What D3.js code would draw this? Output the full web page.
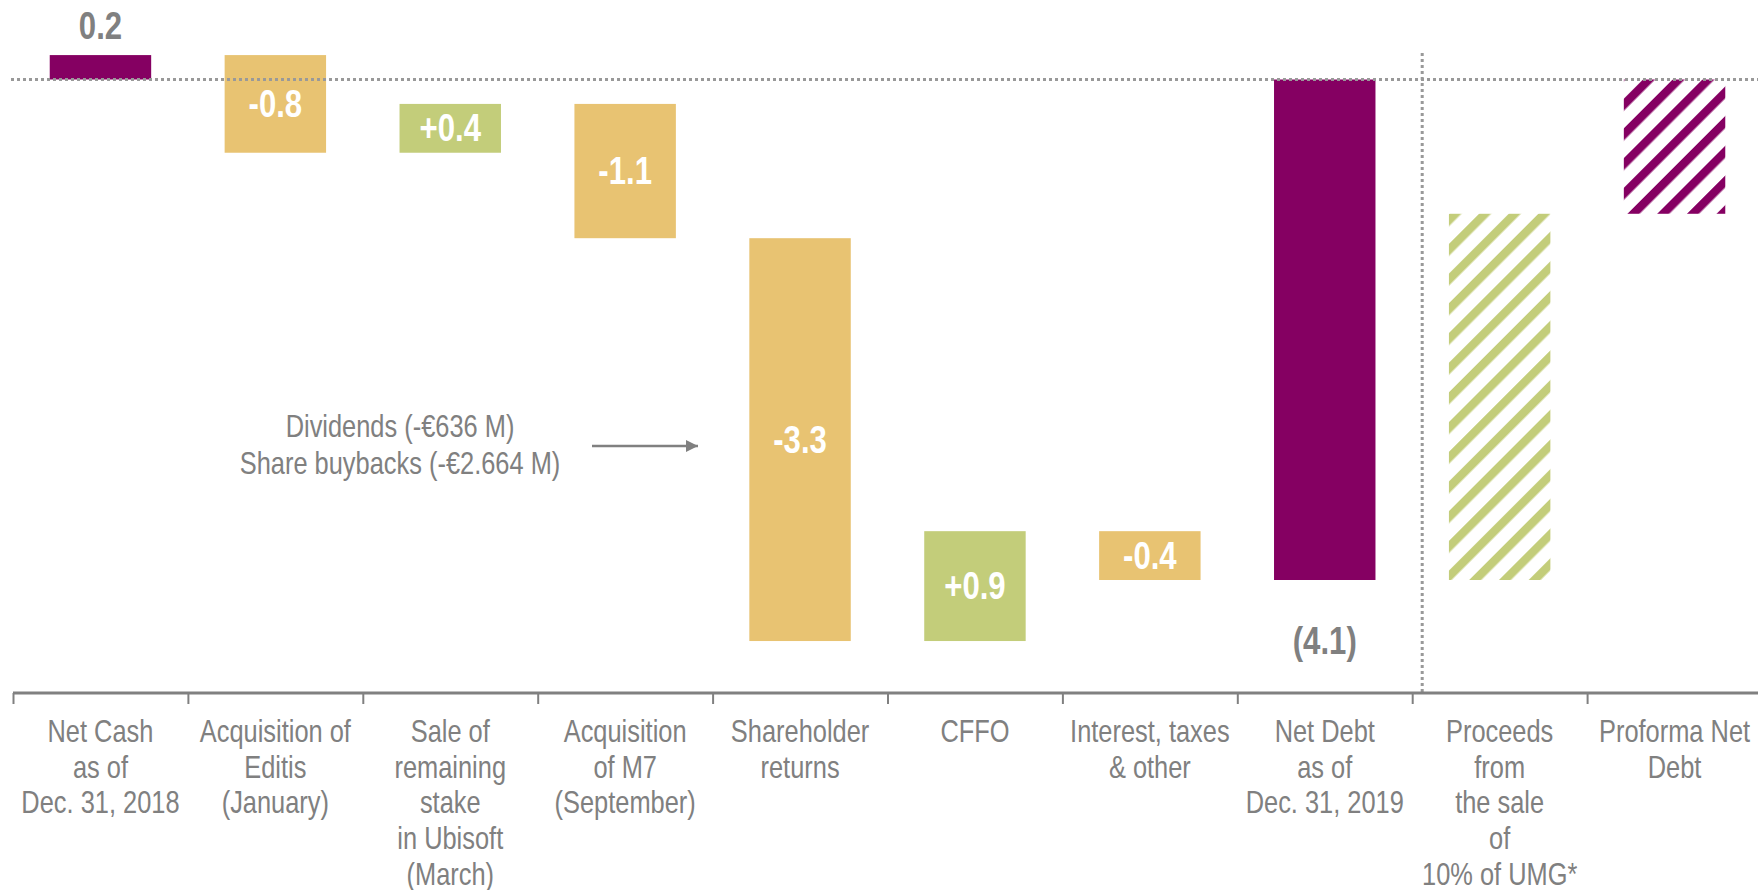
<!DOCTYPE html>
<html>
<head>
<meta charset="utf-8">
<script src="https://cdn.jsdelivr.net/npm/d3@7"></script>
<style>
  body { margin: 0; background: #fff; }
  svg text { font-family: "Liberation Sans", Arial, sans-serif; }
</style>
</head>
<body>
<svg id="chart" width="1758" height="890"></svg>
<script>
// categories (one array of lines per tick)
const categories = [
    ["Net Cash", "as of", "Dec. 31, 2018"],
    ["Acquisition of", "Editis", "(January)"],
    ["Sale of", "remaining", "stake", "in Ubisoft", "(March)"],
    ["Acquisition", "of M7", "(September)"],
    ["Shareholder", "returns"],
    ["CFFO"],
    ["Interest, taxes", "& other"],
    ["Net Debt", "as of", "Dec. 31, 2019"],
    ["Proceeds", "from", "the sale", "of", "10% of UMG*"],
    ["Proforma Net", "Debt"]
];
const values = [0.2, -0.8, 0.4, -1.1, -3.3, 0.9, -0.4, -4.1, 3.0, -1.1];
const kinds = ["total", "delta", "delta", "delta", "delta", "delta", "delta", "total", "proceeds", "proforma"];
const valueLabels = ["0.2", "-0.8", "+0.4", "-1.1", "-3.3", "+0.9", "-0.4", "(4.1)", "", ""];
const noteLines = ["Dividends (-€636 M)", "Share buybacks (-€2.664 M)"];

const purple = "#850062", gold = "#E8C372", green = "#C3CD7A", grey = "#808080";
const squeeze = 0.82; // no narrow font installed, so condense horizontally

const svg = d3.select("#chart");

// waterfall steps
let running = 0;
const bars = values.map((v, i) => {
    let start, end;
    if (kinds[i] === "total" || kinds[i] === "proforma") {
        start = 0; end = v;
    } else {
        start = running; end = running + v;
    }
    running = end;
    return { i: i, v: v, kind: kinds[i], start: start, end: end, label: valueLabels[i] };
});

const x = d3.scaleBand()
    .domain(d3.range(categories.length))
    .range([13, 1762])
    .paddingInner(0.42)
    .paddingOuter(0.21);

const xEdge = d3.scaleLinear().domain([0, categories.length]).range([13, 1762]);

const y = d3.scaleLinear().domain([0, -4.1]).range([79.5, 580]);

// hatch patterns
const defs = svg.append("defs");
function hatch(id, color) {
    const p = defs.append("pattern")
        .attr("id", id)
        .attr("patternUnits", "userSpaceOnUse")
        .attr("width", 21)
        .attr("height", 21)
        .attr("patternTransform", "rotate(45)");
    p.append("rect")
        .attr("x", 0).attr("y", 0)
        .attr("width", 8.5).attr("height", 21)
        .attr("fill", color);
}
hatch("hatchGreen", green);
hatch("hatchPurple", purple);

function fillFor(d) {
    if (d.kind === "total") return purple;
    if (d.kind === "proceeds") return "url(#hatchGreen)";
    if (d.kind === "proforma") return "url(#hatchPurple)";
    return d.v >= 0 ? green : gold;
}

svg.append("g").selectAll("rect")
    .data(bars)
    .join("rect")
    .attr("x", d => x(d.i))
    .attr("width", x.bandwidth())
    .attr("y", d => y(Math.max(d.start, d.end)))
    .attr("height", d => Math.abs(y(d.start) - y(d.end)))
    .attr("fill", fillFor);

// zero reference line (dotted)
svg.append("line")
    .attr("x1", 11).attr("x2", 1758)
    .attr("y1", y(0)).attr("y2", y(0))
    .attr("stroke", "#999")
    .attr("stroke-width", 3)
    .attr("stroke-dasharray", "3,3");

// vertical separator before proforma part
svg.append("line")
    .attr("x1", xEdge(8) + 10).attr("x2", xEdge(8) + 10)
    .attr("y1", 53).attr("y2", 692)
    .attr("stroke", "#999")
    .attr("stroke-width", 3)
    .attr("stroke-dasharray", "3,3");

// condensed text helper
function narrowText(parent, cx, cy, lines, lineH) {
    const t = parent.append("g")
        .attr("transform", `translate(${cx},${cy}) scale(${squeeze},1)`)
        .append("text");
    lines.forEach((s, k) => {
        t.append("tspan").attr("x", 0).attr("y", k * lineH).text(s);
    });
    return t;
}

// value labels
const lab = svg.append("g").attr("font-weight", "bold").attr("font-size", 38).attr("text-anchor", "middle");
bars.filter(d => d.label !== "").forEach(d => {
    const cx = x(d.i) + x.bandwidth() / 2;
    if (d.kind === "delta") {
        narrowText(lab, cx, (y(d.start) + y(d.end)) / 2 + 13, [d.label], 0).attr("fill", "#fff");
    } else if (d.v >= 0) {
        narrowText(lab, cx, y(d.end) - 16, [d.label], 0).attr("fill", grey);
    } else {
        narrowText(lab, cx, y(d.end) + 74, [d.label], 0).attr("fill", grey);
    }
});

// axis with ticks at category boundaries
const axisG = svg.append("g")
    .attr("transform", "translate(0,693)")
    .call(d3.axisBottom(xEdge).tickValues(d3.range(categories.length + 1)).tickFormat("").tickSize(11).tickSizeOuter(0));
axisG.select(".domain").attr("stroke", grey).attr("stroke-width", 3).attr("d", "M13,0H1758");
axisG.selectAll(".tick line").attr("stroke", grey).attr("stroke-width", 2);

// category labels
const catG = svg.append("g").attr("font-size", 31).attr("fill", grey).attr("text-anchor", "middle");
categories.forEach((lines, i) => {
    narrowText(catG, x(i) + x.bandwidth() / 2, 742, lines, 35.7);
});

// annotation
const note = svg.append("g").attr("font-size", 31).attr("fill", grey).attr("text-anchor", "middle");
narrowText(note, 400, 437, noteLines, 37);

defs.append("marker")
    .attr("id", "arrow")
    .attr("viewBox", "0 0 10 10")
    .attr("refX", 10).attr("refY", 5)
    .attr("markerWidth", 5).attr("markerHeight", 5)
    .attr("markerUnits", "strokeWidth")
    .attr("orient", "auto")
    .append("path")
    .attr("d", "M0,0L10,5L0,10Z")
    .attr("fill", grey);

svg.append("line")
    .attr("x1", 592).attr("x2", 698)
    .attr("y1", 446).attr("y2", 446)
    .attr("stroke", grey)
    .attr("stroke-width", 2.5)
    .attr("marker-end", "url(#arrow)");
</script>
</body>
</html>
